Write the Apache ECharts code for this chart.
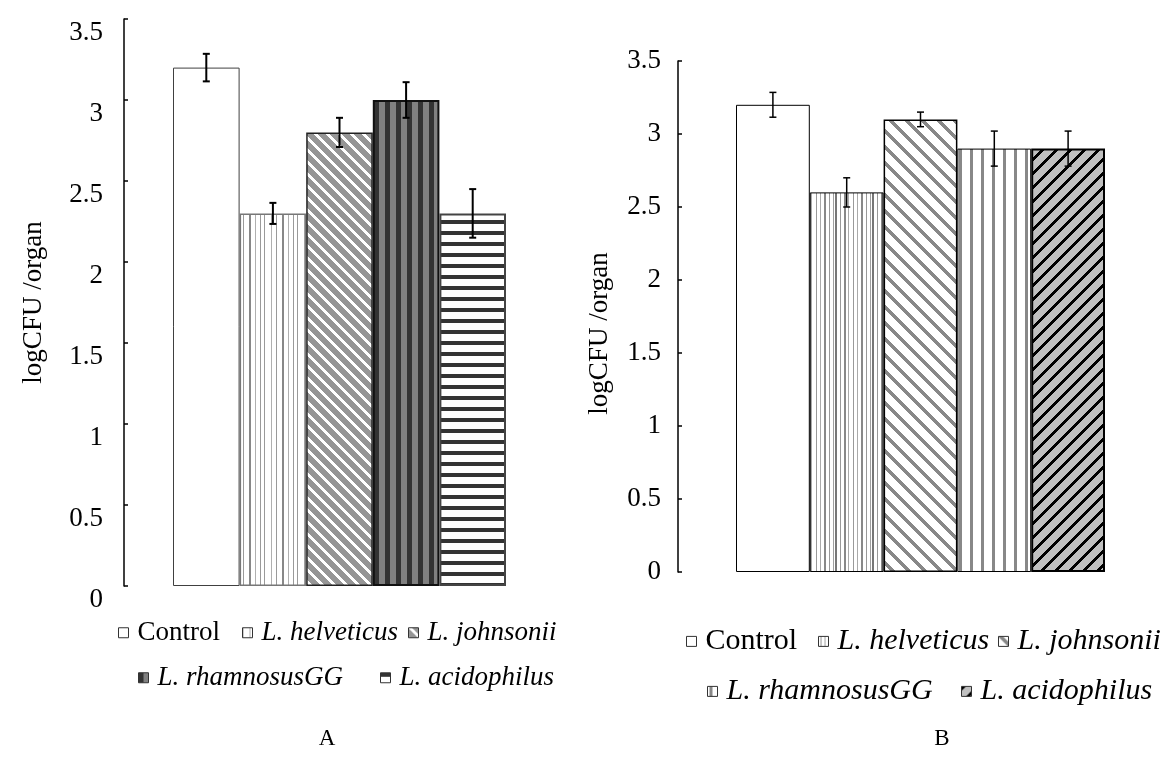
<!DOCTYPE html>
<html>
<head>
<meta charset="utf-8">
<script src="https://cdn.jsdelivr.net/npm/echarts@6/dist/echarts.min.js"></script>
<style>
html,body{margin:0;padding:0;background:#fff;}
#chart{width:1176px;height:765px;}
</style>
</head>
<body>
<div id="chart"></div>
<script>
// ---- data ----
const categories = ['Control', 'L. helveticus', 'L. johnsonii', 'L. rhamnosusGG', 'L. acidophilus'];
const italicNames = [false, true, true, true, true];
const valuesA = [3.2, 2.3, 2.8, 3.0, 2.3];
const errorsA = [0.085, 0.065, 0.09, 0.11, 0.15];
const valuesB = [3.2, 2.6, 3.1, 2.9, 2.9];
const errorsB = [0.085, 0.1, 0.05, 0.12, 0.12];
const yAxisTitle = 'logCFU /organ';
const panelLabels = ['A', 'B'];

// ---- patterns ----
function hex(c){ return [parseInt(c.slice(1,3),16), parseInt(c.slice(3,5),16), parseInt(c.slice(5,7),16)]; }
function makePattern(w, h, fn){
  const c = document.createElement('canvas');
  c.width = w; c.height = h;
  const ctx = c.getContext('2d');
  const img = ctx.createImageData(w, h);
  for (let y = 0; y < h; y++) for (let x = 0; x < w; x++) {
    const col = hex(fn(x, y));
    const k = (y * w + x) * 4;
    img.data[k] = col[0]; img.data[k+1] = col[1]; img.data[k+2] = col[2]; img.data[k+3] = 255;
  }
  ctx.putImageData(img, 0, 0);
  return { image: c, repeat: 'repeat' };
}
function linesPattern(w, lines){
  return makePattern(w, 4, function(x){
    for (const l of lines) if (x >= l[0] && x < l[0] + l[1]) return l[2];
    return '#ffffff';
  });
}
const mod = (a, n) => ((a % n) + n) % n;

const patA = [
  '#ffffff',
  linesPattern(33, [[0,1,'#9a9a9a'],[7,1,'#b0b0b0'],[12,1,'#9a9a9a'],[18,2,'#888888'],[24,1,'#b0b0b0'],[29,1,'#9a9a9a']]),
  makePattern(12, 12, (x, y) => mod(x - y, 12) < 4 ? '#ffffff' : '#969696'),
  makePattern(11, 4, (x) => x < 5 ? '#333333' : '#808080'),
  makePattern(4, 11, (x, y) => y < 4 ? '#333333' : '#ffffff')
];
const borderA = [['#404040',1],['#777777',1.5],['#222222',1.5],['#111111',2],['#444444',2]];

const patB = [
  '#ffffff',
  linesPattern(37, [[2,1,'#9a9a9a'],[6,1,'#aaaaaa'],[10,2,'#888888'],[15,1,'#999999'],[19,1,'#a0a0a0'],[21,2,'#777777'],[26,1,'#999999'],[30,2,'#888888'],[34,1,'#aaaaaa']]),
  makePattern(16, 16, (x, y) => mod(x - y, 16) < 5 ? '#888888' : '#ffffff'),
  makePattern(11, 4, (x) => (x >= 2 && x < 5) ? '#888888' : '#ffffff'),
  makePattern(14, 14, (x, y) => mod(x + y, 14) < 4 ? '#000000' : '#c0c0c0')
];
const borderB = [['#000000',1],['#000000',1],['#000000',1.5],['#000000',1],['#000000',2]];

const FONT = '"Liberation Serif", "Times New Roman", serif';

function buildBars(prefix, values, pats, borders, idx, barWidth){
  return categories.map((cat, i) => ({
    name: prefix + '|' + cat,
    type: 'bar',
    xAxisIndex: idx, yAxisIndex: idx,
    barWidth: barWidth,
    barGap: '-100%',
    data: categories.map((c, j) => j === i ? values[i] : '-'),
    itemStyle: { color: pats[i], borderColor: borders[i][0], borderWidth: borders[i][1] },
    emphasis: { disabled: true },
    z: 2
  }));
}
function buildErr(values, errors, idx, lw, cap){
  return {
    type: 'custom',
    xAxisIndex: idx, yAxisIndex: idx,
    z: 10,
    silent: true,
    data: values.map((v, i) => [i, v - errors[i], v + errors[i]]),
    renderItem: function(params, api){
      const lo = api.coord([api.value(0), api.value(1)]);
      const hi = api.coord([api.value(0), api.value(2)]);
      const st = { stroke: '#000', lineWidth: lw };
      return { type: 'group', children: [
        { type: 'line', shape: { x1: lo[0], y1: lo[1], x2: hi[0], y2: hi[1] }, style: st },
        { type: 'line', shape: { x1: lo[0]-cap, y1: lo[1], x2: lo[0]+cap, y2: lo[1] }, style: st },
        { type: 'line', shape: { x1: hi[0]-cap, y1: hi[1], x2: hi[0]+cap, y2: hi[1] }, style: st }
      ]};
    }
  };
}

function yAxisOf(idx, offset, nameGap, labelSize, nameSize, labelMargin, vAlign, namePad){
  return {
    gridIndex: idx, type: 'value', min: 0, max: 3.5, interval: 0.5,
    offset: offset,
    name: yAxisTitle, nameLocation: 'middle', nameGap: nameGap,
    nameTextStyle: { fontFamily: FONT, fontSize: nameSize, color: '#000', padding: namePad },
    axisLine: { show: true, lineStyle: { color: '#000', width: 1.5 } },
    axisTick: { show: true, inside: true, length: 4, lineStyle: { color: '#000', width: 1.5 } },
    axisLabel: { fontFamily: FONT, fontSize: labelSize, color: '#000', margin: labelMargin, verticalAlign: vAlign },
    splitLine: { show: false }
  };
}
function xAxisOf(idx){
  return { gridIndex: idx, type: 'category', data: categories, boundaryGap: true,
    axisLine: { show: false }, axisTick: { show: false }, axisLabel: { show: false } };
}

const legendPosA = [[118,636],[242,636],[408,636],[138,681],[380,681]];
const legendPosB = [[686,645],[818,645],[998,645],[707,695],[961,695]];
function buildLegends(prefix, pos, fontSize){
  return categories.map((cat, i) => ({
    data: [prefix + '|' + cat],
    left: pos[i][0], top: pos[i][1] - fontSize * 0.62,
    padding: 0,
    icon: 'rect',
    itemWidth: 10, itemHeight: 10, itemGap: 0,
    selectedMode: false,
    itemStyle: { borderColor: '#333', borderWidth: 1 },
    formatter: function(name){
      const n = name.split('|')[1];
      const k = categories.indexOf(n);
      return italicNames[k] ? '{i|' + n + '}' : '{n|' + n + '}';
    },
    textStyle: {
      padding: [0,0,0,4],
      rich: {
        n: { fontFamily: FONT, fontSize: fontSize, color: '#000' },
        i: { fontFamily: FONT, fontSize: fontSize, fontStyle: 'italic', color: '#000' }
      }
    }
  }));
}

const chart = echarts.init(document.getElementById('chart'), null, { renderer: 'canvas' });
chart.setOption({
  backgroundColor: '#ffffff',
  animation: false,
  title: [
    { text: panelLabels[0], left: 322, top: 722, textAlign: 'center', textStyle: { fontFamily: FONT, fontSize: 23, fontWeight: 'normal', color: '#000' } },
    { text: panelLabels[1], left: 937, top: 722, textAlign: 'center', textStyle: { fontFamily: FONT, fontSize: 23, fontWeight: 'normal', color: '#000' } }
  ],
  grid: [
    { left: 173, right: 670, top: 19, bottom: 179 },
    { left: 736, right: 71, top: 61, bottom: 193 }
  ],
  xAxis: [xAxisOf(0), xAxisOf(1)],
  yAxis: [
    yAxisOf(0, 49, 77, 27, 27, 21, 'top', [0, 0, 0, 0]),
    yAxisOf(1, 58, 65, 27, 27, 17, 'middle', [0, 34, 0, 0])
  ],
  legend: buildLegends('A', legendPosA, 27).concat(buildLegends('B', legendPosB, 30)),
  series: [].concat(
    buildBars('A', valuesA, patA, borderA, 0, 333 / 5),
    buildBars('B', valuesB, patB, borderB, 1, 369 / 5),
    [buildErr(valuesA, errorsA, 0, 2, 3.5), buildErr(valuesB, errorsB, 1, 1.5, 3.5)]
  )
});
</script>
</body>
</html>
